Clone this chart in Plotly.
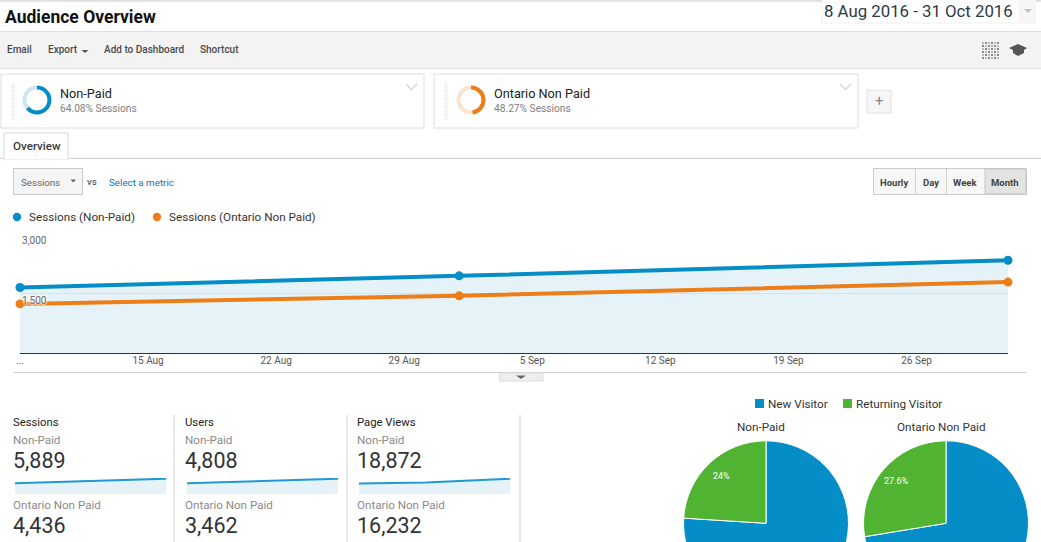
import math
import plotly.graph_objects as go

# figure is taller than the window so the two big pies run off the bottom like the screenshot
W = 1041
H = 640

BLUE = "#058dc7"
ORANGE = "#ed7e17"
GREEN = "#50b432"
FONT = "Roboto"

months = ["2016-08-08", "2016-09-01", "2016-10-01"]
sessions_nonpaid = [1640, 1930, 2319]
sessions_ontario = [1230, 1432, 1774]
users_nonpaid = [1340, 1575, 1893]
pageviews_nonpaid = [5350, 5820, 7702]

xtick_dates = ["2016-08-08", "2016-08-15", "2016-08-22", "2016-08-29", "2016-09-05", "2016-09-12", "2016-09-19", "2016-09-26"]
xtick_labels = ["...", "15 Aug", "22 Aug", "29 Aug", "5 Sep", "12 Sep", "19 Sep", "26 Sep"]
ytick_vals = [0, 1500, 3000]
ytick_labels = ["", "1,500", "3,000"]

segments = ["Non-Paid", "Ontario Non Paid"]
segment_share = [64.08, 48.27]
visitor_types = ["New Visitor", "Returning Visitor"]
visitors_nonpaid = [76, 24]
visitors_ontario = [72.4, 27.6]

metric_names = ["Sessions", "Users", "Page Views"]
metric_nonpaid = ["5,889", "4,808", "18,872"]
metric_ontario = ["4,436", "3,462", "16,232"]

toolbar_items = ["Email", "Export", "Add to Dashboard", "Shortcut"]
toolbar_x = [7, 48, 104, 200]
period_items = ["Hourly", "Day", "Week", "Month"]
period_x = [894, 931, 965, 1005]


def fx(x):
  return x / W


def fy(y):
  return 1 - y / H


shapes = []
annots = []


def rect(x0, y0, x1, y1, fill="rgba(0,0,0,0)", line="#d9d9d9", width=1):
  shapes.append(dict(type="rect", xref="paper", yref="paper", x0=fx(x0), x1=fx(x1), y0=fy(y0), y1=fy(y1),
                     fillcolor=fill, line=dict(color=line, width=width), layer="below"))


def hline(x0, x1, y, color="#d6d6d6", width=1):
  shapes.append(dict(type="line", xref="paper", yref="paper", x0=fx(x0), x1=fx(x1), y0=fy(y), y1=fy(y),
                     line=dict(color=color, width=width), layer="below"))


def vline(x, y0, y1, color="#d6d6d6", width=1):
  shapes.append(dict(type="line", xref="paper", yref="paper", x0=fx(x), x1=fx(x), y0=fy(y0), y1=fy(y1),
                     line=dict(color=color, width=width), layer="below"))


def poly(points, fill=None, line=None, width=1):
  path = "M " + " L ".join("{:.5f},{:.5f}".format(fx(a), fy(b)) for a, b in points)
  if fill:
    path += " Z"
  shapes.append(dict(type="path", xref="paper", yref="paper", path=path, fillcolor=fill if fill else "rgba(0,0,0,0)",
                     line=dict(color=line if line else "rgba(0,0,0,0)", width=width), layer="above"))


def dot(cx, cy, r, color):
  shapes.append(dict(type="circle", xref="paper", yref="paper", x0=fx(cx - r), x1=fx(cx + r), y0=fy(cy - r), y1=fy(cy + r),
                     fillcolor=color, line=dict(width=0), layer="above"))


def label(text, x, y, size=10, color="#333", weight=400, anchor="left"):
  annots.append(dict(text=text, xref="paper", yref="paper", x=fx(x), y=fy(y), xanchor=anchor, yanchor="middle",
                     showarrow=False, borderpad=0, font=dict(family=FONT, size=size, color=color, weight=weight)))


# page chrome
for i, c in enumerate(["#dcdcdc", "#ececec", "#f7f7f7"]):
  hline(0, W, i + 0.5, c)
label("Audience Overview", 4, 17, 17.5, "#111", 700)
rect(822, -2, 1035, 23, "#ffffff", "#efefef")
rect(1019, 0, 1035, 23, "#f6f6f6", "#f6f6f6")
label("8 Aug 2016 - 31 Oct 2016", 823, 11, 16.8, "#2d3a48")
poly([(1024, 9), (1032, 9), (1028, 13)], "#c4c4c4")

rect(-2, 31.5, W + 2, 68.5, "#f3f3f3", "#e0e0e0")
for name, x in zip(toolbar_items, toolbar_x):
  label(name, x - 1, 49.5, 10, "#4a4a4a", 500)
poly([(81.5, 50), (88.5, 50), (85, 53)], "#555")
for row in range(6):
  for col in range(6):
    rect(982 + col * 3, 42 + row * 3, 984 + col * 3, 44 + row * 3, "#8a8a8a" if (row + col) % 2 else "#bbb", "rgba(0,0,0,0)", 0)
poly([(1009, 48), (1018, 44), (1027, 48), (1024, 50), (1024, 53), (1018, 56), (1013, 53), (1013, 50)], "#555")

# segment cards
for x0, x1 in [(1, 424), (434, 858)]:
  shapes.append(dict(type="rect", xref="paper", yref="paper", x0=fx(x0), x1=fx(x1), y0=fy(74), y1=fy(128), fillcolor="#fff",
                     line=dict(color="#dedede", width=1), layer="below"))
  for k in range(19):
    hline(x0 + 10, x0 + 14, 83.5 + k * 2, "#ececec")
  poly([(x1 - 18, 84), (x1 - 12.5, 89.5), (x1 - 7, 84)], None, "#d8d8d8", 1.5)
for name, share, x in zip(segments, segment_share, [60, 494]):
  label(name, x - 1, 93.5, 12.7, "#222")
  label("{:.2f}% Sessions".format(share), x - 1, 108.5, 10.2, "#808080")
rect(867, 90, 891, 113, "#f6f6f6", "#e2e2e2")
label("+", 879, 101.5, 15, "#888", 400, "center")

# tab + metric row
hline(0, W, 158.5, "#cfcfcf")
rect(4, 133, 68, 159, "#fff", "#d6d6d6")
hline(5, 67, 158.5, "#ffffff", 1.5)
label("Overview", 11.5, 146, 11.6, "#3a3a3a", 500)
rect(13.5, 168.5, 82.5, 194.5, "#f5f5f5", "#c9c9c9")
label("Sessions", 20, 182, 9.7, "#666")
poly([(70.5, 179.5), (76, 179.5), (73.2, 182.5)], "#666")
label("vs", 86, 181, 9.7, "#333")
label("Select a metric", 108, 182, 9.8, "#1a6fb0")

rect(873.5, 168.5, 1026.5, 194.5, "#f7f7f7", "#cccccc")
rect(985, 169, 1026, 194, "#e3e3e3", "#c4c4c4")
vline(915.5, 169, 194, "#d0d0d0")
vline(946.5, 169, 194, "#d0d0d0")
for name, x in zip(period_items, period_x):
  label(name, x, 182, 9.5, "#444", 700, "center")

# chart legend
dot(17, 217, 4.2, BLUE)
label("Sessions (Non-Paid)", 28, 217, 11.7, "#333")
dot(157, 217, 4.2, ORANGE)
label("Sessions (Ontario Non Paid)", 168, 217, 11.7, "#333")

hline(14, 1026, 372.5, "#cfcfcf")
rect(499.5, 373, 543, 381, "#eeeeee", "#dddddd")
poly([(516, 375.5), (526, 375.5), (521, 379)], "#666")

# bottom scorecards
for i, x in enumerate([12, 184, 356]):
  label(metric_names[i], x, 422, 11.3, "#222")
  label(segments[0], x, 440, 11.6, "#8a8a8a")
  label(metric_nonpaid[i], x, 460, 21.5, "#333")
  label(segments[1], x, 505, 11.6, "#8a8a8a")
  label(metric_ontario[i], x, 525, 21.5, "#333")
for x in [174, 347, 520]:
  vline(x, 415, 545, "#d0d0d0")

# pie legend and titles
rect(755, 399, 764, 408, BLUE, BLUE, 0)
label(visitor_types[0], 767, 404, 11.7, "#333")
rect(843, 399, 852, 408, GREEN, GREEN, 0)
label(visitor_types[1], 855, 404, 11.7, "#333")
label(segments[0], 761, 427, 11.7, "#333", 400, "center")
label(segments[1], 941, 427, 11.7, "#333", 400, "center")

fig = go.Figure()

fig.add_trace(go.Scatter(x=months, y=sessions_nonpaid, mode="lines+markers", fill="tozeroy", fillcolor="rgba(5,141,199,0.105)",
                         line=dict(color=BLUE, width=4), marker=dict(color=BLUE, size=9), cliponaxis=False, showlegend=False))
fig.add_trace(go.Scatter(x=months, y=sessions_ontario, mode="lines+markers",
                         line=dict(color=ORANGE, width=4), marker=dict(color=ORANGE, size=9), cliponaxis=False, showlegend=False))

# sparklines under each metric
sparks = [sessions_nonpaid, users_nonpaid, pageviews_nonpaid]
spark_left = [15, 187, 359]
for i, vals in enumerate(sparks):
  n = str(i + 2)
  fig.add_trace(go.Scatter(x=months, y=vals, mode="lines", fill="tozeroy", fillcolor="rgba(5,141,199,0.105)",
                           line=dict(color="#1f9ad3", width=2), xaxis="x" + n, yaxis="y" + n, showlegend=False))
  fig.update_layout({
    "xaxis" + n: dict(domain=[fx(spark_left[i]), fx(spark_left[i] + 151)], anchor="y" + n, visible=False, type="date",
                      range=[months[0], months[-1]]),
    "yaxis" + n: dict(domain=[fy(494), fy(478)], anchor="x" + n, visible=False, range=[0, max(vals) / 0.956]),
  })

# small share donuts inside the cards
for share, col, pale, cx in [(segment_share[0], BLUE, "#cde6f3", 37), (segment_share[1], ORANGE, "#fbe3cd", 471)]:
  r = 14.5
  fig.add_trace(go.Pie(values=[share, 100 - share], sort=False, direction="clockwise", rotation=0, hole=0.72,
                       marker=dict(colors=[col, pale], line=dict(width=0)), textinfo="none", showlegend=False,
                       domain=dict(x=[fx(cx - r), fx(cx + r)], y=[fy(100 + r), fy(100 - r)])))

# big visitor pies, the percent goes on the green slice only
PIE_R = 82.5
PIE_Y = 523.3
for vals, cx in [(visitors_nonpaid, 766), (visitors_ontario, 946)]:
  fig.add_trace(go.Pie(values=vals, labels=visitor_types, sort=False, direction="clockwise", rotation=0,
                       marker=dict(colors=[BLUE, GREEN], line=dict(color="#fff", width=1)),
                       textinfo="none", showlegend=False,
                       domain=dict(x=[fx(cx - PIE_R), fx(cx + PIE_R)], y=[fy(PIE_Y + PIE_R), fy(PIE_Y - PIE_R)])))
  # mid angle of the returning slice
  ang = math.radians(vals[1] / 100 * 180)
  label("{:g}%".format(vals[1]), cx - math.sin(ang) * PIE_R * 0.79, PIE_Y - math.cos(ang) * PIE_R * 0.79, 9, "#fff", 400, "center")

# y labels sit inside the plot just under their gridlines, 1,500 has a white halo
for v, t in zip(ytick_vals, ytick_labels):
  if t:
    annots.append(dict(text=t, xref="paper", x=fx(21), yref="y", y=v, xanchor="left", yanchor="middle",
                       yshift=-7.5, showarrow=False, borderpad=0,
                       font=dict(family=FONT, size=10, color="#666", shadow="0 0 2px #fff, 0 0 2px #fff, 0 0 3px #fff, 0 0 3px #fff")))

fig.update_layout(
  template="none",
  width=W,
  height=H,
  margin=dict(l=0, r=0, t=0, b=0),
  paper_bgcolor="#fff",
  plot_bgcolor="rgba(0,0,0,0)",
  font=dict(family=FONT),
  showlegend=False,
  shapes=shapes,
  annotations=annots,
  xaxis=dict(domain=[fx(20), fx(1008)], type="date", range=[months[0], months[-1]], tickmode="array",
             tickvals=xtick_dates, ticktext=xtick_labels, showgrid=False, zeroline=False, showline=False, ticks="",
             tickfont=dict(family=FONT, size=10, color="#555"), ticklabeloverflow="allow", fixedrange=True),
  yaxis=dict(domain=[fy(353.3), fy(232.9)], range=[0, 3000], tickmode="array", tickvals=ytick_vals,
             showticklabels=False, gridcolor="#eeeeee", gridwidth=1, zeroline=True, zerolinecolor="#333", zerolinewidth=1,
             fixedrange=True),
)

fig.write_html("out.html", config=dict(displayModeBar=False),
               post_script="document.body.style.margin='0';document.body.style.overflow='hidden';")
